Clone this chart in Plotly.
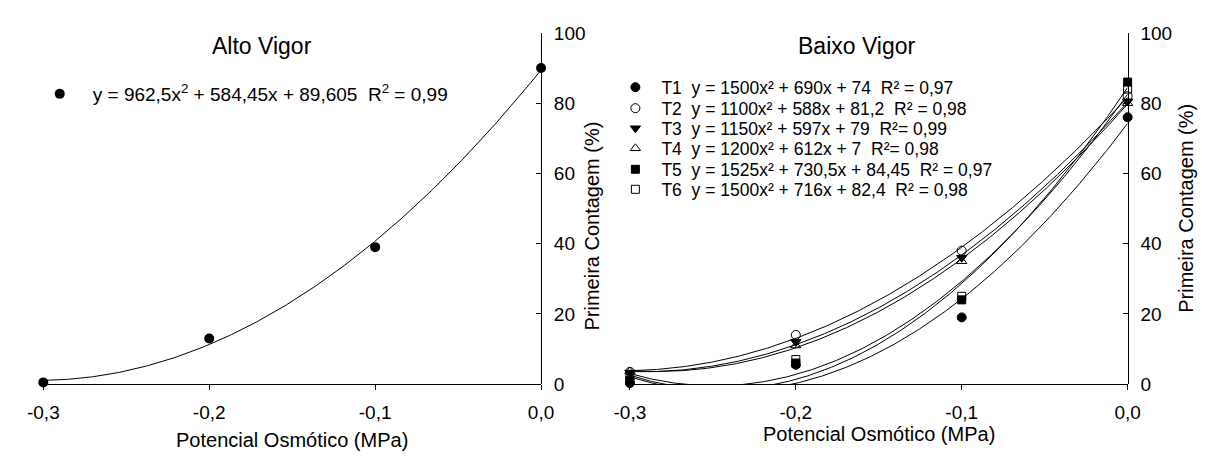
import numpy as np
import plotly.graph_objects as go

# ---------------- data ----------------
potencial = [-0.3, -0.2, -0.1, 0.0]
tick_vals_x = [-0.3, -0.2, -0.1, 0.0]
tick_text_x = ["-0,3", "-0,2", "-0,1", "0,0"]
tick_vals_y = [0, 20, 40, 60, 80, 100]

alto_vigor = [0.5, 13, 39, 90]
alto_label = "y = 962,5x<sup>2</sup> + 584,45x + 89,605\u00a0\u00a0R<sup>2</sup> = 0,99"

series_names = ["T1", "T2", "T3", "T4", "T5", "T6"]
T1 = [0.3, 5.5, 19, 76]
T2 = [3.5, 14, 38, 82]
T3 = [3.3, 12, 36, 80.5]
T4 = [3.6, 11, 35, 80]
T5 = [1.0, 6, 24, 86]
T6 = [1.6, 7, 25, 84]
baixo_values = [T1, T2, T3, T4, T5, T6]
baixo_labels = [
    "T1\u00a0\u00a0y = 1500x² + 690x + 74\u00a0\u00a0R² = 0,97",
    "T2\u00a0\u00a0y = 1100x² + 588x + 81,2\u00a0\u00a0R² = 0,98",
    "T3\u00a0\u00a0y = 1150x² + 597x + 79\u00a0\u00a0R²= 0,99",
    "T4\u00a0\u00a0y = 1200x² + 612x + 7\u00a0\u00a0R²= 0,98",
    "T5\u00a0\u00a0y = 1525x² + 730,5x + 84,45\u00a0\u00a0R² = 0,97",
    "T6\u00a0\u00a0y = 1500x² + 716x + 82,4\u00a0\u00a0R² = 0,98",
]
symbols = ["circle", "circle-open", "triangle-down", "triangle-up-open", "square", "square-open"]
marker_sizes = [9, 9, 9, 9, 8, 8]

FONT = "Liberation Sans, Arial, sans-serif"
W, H = 1207, 461


def px_x(p):
    return p / W


def px_y(p):
    return 1 - p / H


fig = go.Figure()

# dense grid for the fitted quadratic regression curves
xs = np.linspace(min(potencial), max(potencial), 300)

# ---- Alto Vigor ----
coef = np.polyfit(potencial, alto_vigor, 2)
fig.add_trace(go.Scatter(x=xs, y=np.polyval(coef, xs), mode="lines",
                         line=dict(color="black", width=1), showlegend=False,
                         xaxis="x", yaxis="y", hoverinfo="skip"))
fig.add_trace(go.Scatter(x=potencial, y=alto_vigor, mode="markers", name=alto_label,
                         marker=dict(symbol="circle", size=10, color="black"),
                         cliponaxis=False, xaxis="x", yaxis="y", legend="legend"))

# ---- Baixo Vigor ----
for vals in baixo_values:
    c = np.polyfit(potencial, vals, 2)
    fig.add_trace(go.Scatter(x=xs, y=np.polyval(c, xs), mode="lines",
                             line=dict(color="black", width=1), showlegend=False,
                             xaxis="x2", yaxis="y2", hoverinfo="skip"))
for i, (vals, sym, lab, ms) in enumerate(zip(baixo_values, symbols, baixo_labels, marker_sizes)):
    fig.add_trace(go.Scatter(x=potencial, y=vals, mode="markers", name=lab,
                             marker=dict(symbol=sym, size=ms, color="black",
                                         line=dict(color="black", width=1)),
                             cliponaxis=False, xaxis="x2", yaxis="y2",
                             legend=f"legend{i + 2}"))

xdom1 = [px_x(28), px_x(538)]
xdom2 = [px_x(629), px_x(1139)]
ydom = [px_y(392), px_y(24)]

TICKFONT = dict(family=FONT, size=19, color="black")
xcommon = dict(range=[-0.3, 0.0], tickvals=tick_vals_x, ticktext=tick_text_x,
               showline=True, linecolor="black", linewidth=1, ticks="outside",
               ticklen=5, tickcolor="black", showgrid=False, zeroline=False,
               tickfont=TICKFONT, fixedrange=True, ticklabelstandoff=6)
ycommon = dict(range=[0, 100], tickvals=tick_vals_y, side="right",
               showline=True, linecolor="black", linewidth=1, ticks="inside",
               ticklen=5, tickcolor="black", showgrid=False, zeroline=False,
               tickfont=TICKFONT, fixedrange=True, ticklabelstandoff=8)

legend_common = dict(xanchor="left", yanchor="middle", bgcolor="rgba(0,0,0,0)",
                     borderwidth=0, tracegroupgap=0)

layout_legends = {
    "legend": dict(x=px_x(44 - 33), y=px_y(88), itemwidth=56,
                   font=dict(family=FONT, size=19, color="black"), **legend_common),
}
row_y = [81, 103, 124, 145, 167, 188]
for i, ry in enumerate(row_y):
    layout_legends[f"legend{i + 2}"] = dict(
        x=px_x(634 - 26), y=px_y(ry), itemwidth=42,
        font=dict(family=FONT, size=17.5, color="black"), **legend_common)

fig.update_layout(
    width=W, height=H, autosize=False,
    margin=dict(l=0, r=0, t=0, b=0),
    paper_bgcolor="white", plot_bgcolor="white",
    font=dict(family=FONT, color="black"),
    xaxis=dict(domain=xdom1, anchor="y", **xcommon),
    yaxis=dict(domain=ydom, anchor="free", position=xdom1[1], **ycommon),
    xaxis2=dict(domain=xdom2, anchor="y2", **xcommon),
    yaxis2=dict(domain=ydom, anchor="free", position=xdom2[1], **ycommon),
    showlegend=True,
    **layout_legends,
)


def ann(text, x, y, size, angle=0):
    return dict(text=text, x=px_x(x), y=px_y(y), xref="paper", yref="paper",
                xanchor="center", yanchor="middle", showarrow=False, textangle=angle,
                font=dict(family=FONT, size=size, color="black"))


annotations = [
    ann("Alto Vigor", 252, 38, 23),
    ann("Baixo Vigor", 862, 38, 23),
    ann("Potencial Osmótico (MPa)", 283, 451, 20),
    ann("Potencial Osmótico (MPa)", 884, 444, 20),
    ann("Primeira Contagem (%)", 590, 226, 20, -90),
    ann("Primeira Contagem (%)", 1198, 208, 20, -90),
]
fig.update_layout(annotations=annotations)

fig.write_html("out.html")
